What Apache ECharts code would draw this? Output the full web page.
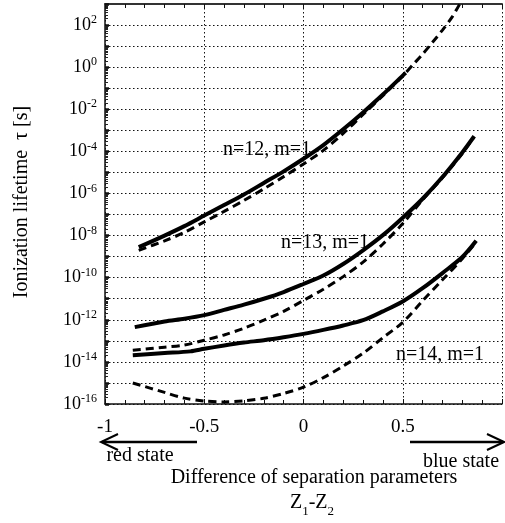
<!DOCTYPE html>
<html>
<head>
<meta charset="utf-8">
<script src="https://cdn.jsdelivr.net/npm/echarts@6/dist/echarts.min.js"></script>
<style>
html, body { margin: 0; padding: 0; background: #fff; }
#chart { width: 505px; height: 523px; }
</style>
</head>
<body>
<div id="chart"></div>
<script>
// Separation-parameter difference Z1-Z2 and log10 of the ionization lifetime (s)
const z_n12_solid = [-0.83, -0.7, -0.6, -0.5, -0.4, -0.3, -0.2, -0.1, 0, 0.1, 0.2, 0.3, 0.4, 0.5, 0.515];
const log_n12_solid = [-8.55, -8.0, -7.55, -7.05, -6.55, -6.05, -5.5, -4.95, -4.35, -3.7, -2.95, -2.15, -1.3, -0.4, -0.27];

const z_n12_dash = [-0.83, -0.7, -0.6, -0.5, -0.4, -0.3, -0.2, -0.1, 0, 0.1, 0.2, 0.3, 0.4, 0.5, 0.55, 0.6, 0.65, 0.7, 0.75, 0.79];
const log_n12_dash = [-8.7, -8.25, -7.85, -7.35, -6.85, -6.33, -5.78, -5.2, -4.6, -3.95, -3.15, -2.25, -1.35, -0.42, 0.1, 0.62, 1.18, 1.76, 2.4, 3.05];

const z_n13_solid = [-0.85, -0.7, -0.6, -0.5, -0.4, -0.3, -0.2, -0.1, 0, 0.1, 0.2, 0.3, 0.4, 0.5, 0.6, 0.7, 0.8, 0.86];
const log_n13_solid = [-12.35, -12.08, -11.95, -11.78, -11.53, -11.28, -11.0, -10.68, -10.3, -9.9, -9.35, -8.7, -7.98, -7.15, -6.25, -5.22, -4.05, -3.28];

const z_n13_dash = [-0.86, -0.7, -0.6, -0.5, -0.4, -0.3, -0.2, -0.1, 0, 0.1, 0.2, 0.3, 0.4, 0.5, 0.6, 0.7, 0.8, 0.86];
const log_n13_dash = [-13.45, -13.3, -13.2, -12.97, -12.72, -12.4, -12.02, -11.6, -11.08, -10.55, -9.95, -9.26, -8.4, -7.43, -6.3, -5.25, -4.1, -3.3];

const z_n14_solid = [-0.86, -0.7, -0.57, -0.5, -0.4, -0.3, -0.2, -0.1, 0, 0.1, 0.2, 0.3, 0.4, 0.5, 0.6, 0.7, 0.8, 0.87];
const log_n14_solid = [-13.68, -13.58, -13.5, -13.38, -13.22, -13.08, -12.97, -12.83, -12.67, -12.48, -12.27, -12.02, -11.6, -11.13, -10.5, -9.78, -9.02, -8.25];

const z_n14_dash = [-0.86, -0.7, -0.6, -0.5, -0.4, -0.3, -0.2, -0.1, 0, 0.1, 0.2, 0.3, 0.4, 0.5, 0.6, 0.7, 0.8, 0.87];
const log_n14_dash = [-15.0, -15.45, -15.72, -15.86, -15.9, -15.85, -15.73, -15.5, -15.2, -14.75, -14.2, -13.59, -12.85, -12.12, -11.1, -10.1, -9.1, -8.3];

// Curve labels
const curveLabels = ['n=12, m=1', 'n=13, m=1', 'n=14, m=1'];

const SERIF = '"Liberation Serif", "DejaVu Serif", serif';

function pairs(zs, logs) {
  return zs.map((z, i) => [z, Math.pow(10, logs[i])]);
}

function curve(zs, logs, dashed) {
  return {
    type: 'line',
    data: pairs(zs, logs),
    showSymbol: false,
    smooth: 0.3,
    silent: true,
    lineStyle: dashed
      ? { color: '#000', width: 3, type: [8, 5] }
      : { color: '#000', width: 4 },
    z: dashed ? 3 : 4
  };
}

const chart = echarts.init(document.getElementById('chart'), null, { renderer: 'canvas' });

const xCommon = {
  type: 'value',
  min: -1,
  max: 1,
  interval: 0.5
};

chart.setOption({
  animation: false,
  backgroundColor: '#fff',
  grid: { left: 105, right: -4, top: 4, bottom: 119, containLabel: false },
  xAxis: [
    Object.assign({}, xCommon, {
      position: 'bottom',
      axisLine: { show: true, onZero: false, lineStyle: { color: '#111', width: 1.5 } },
      axisTick: { show: true, inside: true, length: 5, lineStyle: { color: '#111', width: 1 } },
      minorTick: { show: true, splitNumber: 5, length: 4, lineStyle: { color: '#111', width: 1 } },
      splitLine: { show: true, lineStyle: { color: '#111', width: 1, type: [1.5, 2.5] } },
      axisLabel: {
        show: true,
        margin: 14,
        fontFamily: SERIF,
        fontSize: 19,
        color: '#000',
        formatter: function (v) {
          if (v > 0.75) return '';
          return String(v);
        }
      }
    }),
    Object.assign({}, xCommon, {
      position: 'top',
      axisLine: { show: true, onZero: false, lineStyle: { color: '#333', width: 2 } },
      axisTick: { show: true, inside: true, length: 5, lineStyle: { color: '#111', width: 1 } },
      minorTick: { show: true, splitNumber: 5, length: 4, lineStyle: { color: '#111', width: 1 } },
      splitLine: { show: false },
      axisLabel: { show: false }
    })
  ],
  yAxis: {
    type: 'log',
    logBase: 10,
    min: 1e-16,
    max: 1e3,
    interval: 1,
    position: 'left',
    axisLine: { show: true, onZero: false, lineStyle: { color: '#111', width: 1.5 } },
    axisTick: { show: true, inside: true, length: 4, lineStyle: { color: '#111', width: 2.5 } },
    minorTick: { show: true, splitNumber: 9, length: 3, lineStyle: { color: '#222', width: 1 } },
    splitLine: { show: true, lineStyle: { color: '#111', width: 1, type: [1.5, 2.5] } },
    axisLabel: {
      show: true,
      margin: 8,
      fontFamily: SERIF,
      fontSize: 18,
      lineHeight: 22,
      color: '#000',
      formatter: function (v) {
        const e = Math.round(Math.log10(v));
        if (e % 2 !== 0) return '';
        return '10{sup|' + e + '}';
      },
      rich: {
        sup: { fontFamily: SERIF, fontSize: 12, lineHeight: 12, verticalAlign: 'top', color: '#000' }
      }
    }
  },
  series: [
    curve(z_n12_dash, log_n12_dash, true),
    curve(z_n12_solid, log_n12_solid, false),
    curve(z_n13_dash, log_n13_dash, true),
    curve(z_n13_solid, log_n13_solid, false),
    curve(z_n14_dash, log_n14_dash, true),
    curve(z_n14_solid, log_n14_solid, false)
  ],
  graphic: [
    // curve labels
    { type: 'text', x: 267, y: 150, z: 10, style: { text: curveLabels[0], font: '20px ' + SERIF, fill: '#000', align: 'center', verticalAlign: 'middle' } },
    { type: 'text', x: 325, y: 243, z: 10, style: { text: curveLabels[1], font: '20px ' + SERIF, fill: '#000', align: 'center', verticalAlign: 'middle' } },
    { type: 'text', x: 440, y: 355, z: 10, style: { text: curveLabels[2], font: '20px ' + SERIF, fill: '#000', align: 'center', verticalAlign: 'middle' } },
    // y-axis title
    { type: 'text', x: 22, y: 202, rotation: Math.PI / 2, z: 10,
      style: { text: 'Ionization lifetime  \u03c4 [s]', font: '20px ' + SERIF, fill: '#000', align: 'center', verticalAlign: 'middle' } },
    // direction arrows
    { type: 'polyline', z: 10, shape: { points: [[197, 442], [102, 442]] }, style: { stroke: '#000', lineWidth: 2.5 } },
    { type: 'polyline', z: 10, shape: { points: [[118, 434], [101, 442], [118, 450]] }, style: { stroke: '#000', lineWidth: 2, fill: null } },
    { type: 'polyline', z: 10, shape: { points: [[410, 442], [503, 442]] }, style: { stroke: '#000', lineWidth: 2.5 } },
    { type: 'polyline', z: 10, shape: { points: [[487, 434], [504, 442], [487, 450]] }, style: { stroke: '#000', lineWidth: 2, fill: null } },
    { type: 'text', x: 140, y: 456, z: 10, style: { text: 'red state', font: '20px ' + SERIF, fill: '#000', align: 'center', verticalAlign: 'middle' } },
    { type: 'text', x: 461, y: 462, z: 10, style: { text: 'blue state', font: '20px ' + SERIF, fill: '#000', align: 'center', verticalAlign: 'middle' } },
    // x-axis title
    { type: 'text', x: 314, y: 478, z: 10, style: { text: 'Difference of separation parameters', font: '20px ' + SERIF, fill: '#000', align: 'center', verticalAlign: 'middle' } },
    { type: 'text', x: 312, y: 503, z: 10,
      style: {
        text: 'Z{sub|1}-Z{sub|2}', font: '20px ' + SERIF, fill: '#000', align: 'center', verticalAlign: 'middle',
        rich: { sub: { fontFamily: SERIF, fontSize: 13, verticalAlign: 'bottom', lineHeight: 13, padding: [0, 0, -5, 0] } }
      } }
  ]
});
</script>
</body>
</html>
